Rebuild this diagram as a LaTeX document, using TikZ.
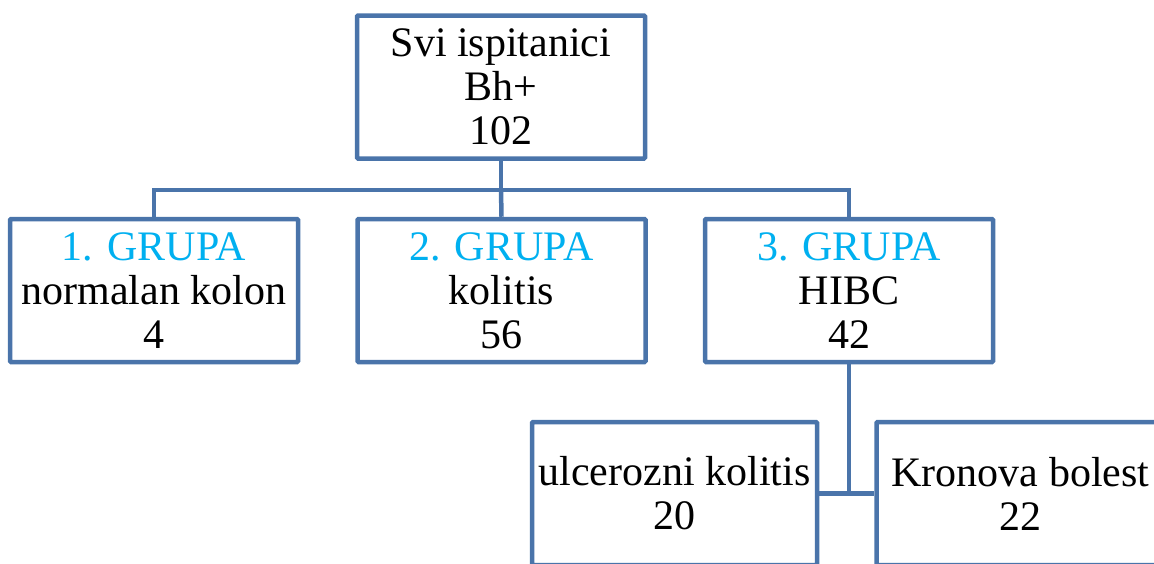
\documentclass[tikz,border=0pt]{standalone}
\usepackage{fontspec}
\IfFontExistsTF{LiberationSerif-Regular.ttf}{\setmainfont{LiberationSerif-Regular.ttf}}{\setmainfont{Liberation Serif}}
\definecolor{boxblue}{RGB}{74,116,170}
\definecolor{grupacyan}{RGB}{0,176,240}

\begin{document}
\begin{tikzpicture}[x=1pt,y=-1pt,
	box/.style={draw=boxblue,line width=4.5pt,rounded corners=1pt,fill=white,minimum width=288pt,minimum height=143pt,inner sep=0,align=center,font=\fontsize{42}{44}\selectfont},
	link/.style={draw=boxblue,line width=4.5pt}]
	\useasboundingbox (0,0) rectangle (1154,563);
	\clip (0,0) rectangle (1154,563);
	\node[box] (svi) at (501,87) {Svi ispitanici\\Bh+\\102};
	\node[box] (g1) at (154,290.5) {\textcolor{grupacyan}{1. GRUPA}\\normalan kolon\\4};
	\node[box] (g2) at (501.5,290.5) {\textcolor{grupacyan}{2. GRUPA}\\kolitis\\56};
	\node[box] (g3) at (849,290.5) {\textcolor{grupacyan}{3. GRUPA}\\HIBC\\42};
	\node[box,minimum width=285pt] (uk) at (674.5,493.5) {ulcerozni kolitis\\20};
	\node[box] (kb) at (1020.5,493.5) {Kronova bolest\\22};
	\coordinate (bar) at (501,190);
	\draw[link] (svi.south) -- (bar);
	\draw[link] (g1.north) |- (bar) -| (g3.north);
	\draw[link] (bar) -- (g2.north);
	\draw[link] (g3.south) -- (g3.south |- uk.east);
	\draw[link] (uk.east) -- (kb.west);
\end{tikzpicture}
\end{document}
